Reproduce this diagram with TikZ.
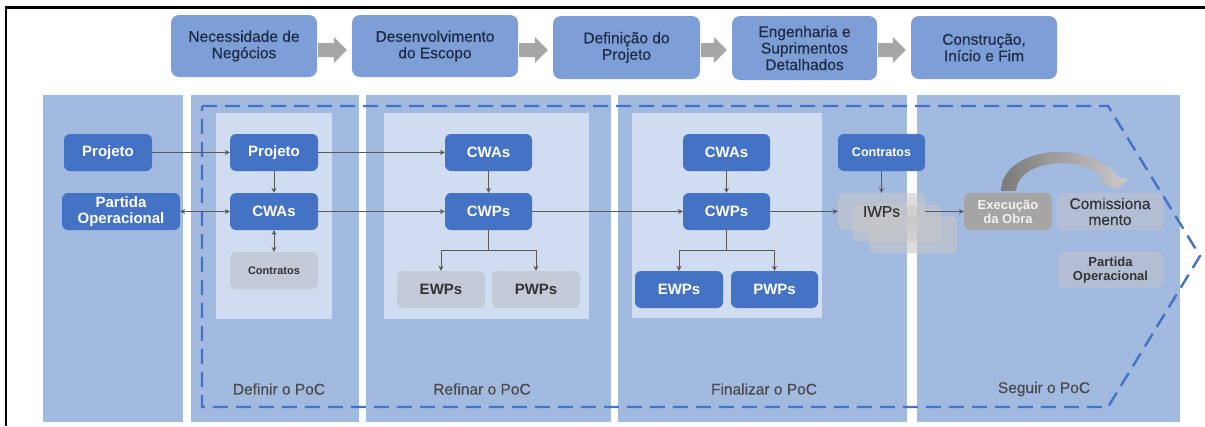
\documentclass[tikz,border=0pt]{standalone}
\usepackage{fontspec}
\setmainfont{Liberation Sans}
\newfontfamily\medfont[FakeBold=0.35]{Liberation Sans}
\usetikzlibrary{arrows.meta,calc}
\definecolor{topblue}{HTML}{7D9ED7}
\definecolor{toptext}{HTML}{1F2A44}
\definecolor{panelblue}{HTML}{A2B9E0}
\definecolor{innerblue}{HTML}{D0DCF0}
\definecolor{darkblue}{HTML}{4472C4}
\definecolor{greybox}{HTML}{C4CBD8}
\definecolor{greytext}{HTML}{333333}
\definecolor{conncol}{HTML}{5A5A5A}
\definecolor{arrgray}{HTML}{A6A6A6}
\definecolor{execol}{HTML}{A5A5A5}
\definecolor{comcol}{HTML}{B3BED4}
\definecolor{poctext}{HTML}{4A4A4A}
\newcommand\toparr[2]{\fill[arrgray] let \p1=(#1.east), \p2=(#2.west) in
  (\x1+1pt,-43pt) -- (\x2-18pt,-43pt) -- (\x2-18pt,-37pt) -- (\x2-5pt,-50pt) --
  (\x2-18pt,-63pt) -- (\x2-18pt,-57pt) -- (\x1+1pt,-57pt) -- cycle;}
\begin{document}
\begin{tikzpicture}[x=1pt,y=-1pt,
  topbox/.style={rectangle, rounded corners=8pt, fill=topblue, inner sep=0pt, align=center,
    text=toptext, font=\medfont\fontsize{15.5}{16.5}\selectfont},
  dbox/.style={rectangle, rounded corners=6pt, fill=darkblue, text=white,
    font=\bfseries\fontsize{15}{16.5}\selectfont, minimum width=88pt, minimum height=37pt,
    inner sep=0pt, align=center},
  gbox/.style={dbox, fill=greybox, text=greytext},
  stackbox/.style={rectangle, rounded corners=6pt, fill=black!22, fill opacity=0.6,
    minimum width=88pt, minimum height=37pt, inner sep=0pt},
  poc/.style={text=poctext, font=\medfont\fontsize{15.5}{17}\selectfont, inner sep=0pt},
  conn/.style={draw=conncol, line width=0.9pt, -{Stealth[length=5pt,width=5pt]}},
  conn2/.style={draw=conncol, line width=0.9pt, {Stealth[length=5pt,width=5pt]}-{Stealth[length=5pt,width=5pt]}},
  dashline/.style={draw=darkblue, line width=2.4pt, dash pattern=on 15pt off 8pt}
]
\useasboundingbox (0,0) rectangle (1205,426);
% frame
\draw[black, line width=2.6pt] (6,426) -- (6,7.5) -- (1205,7.5);

% top process boxes
\node[topbox, minimum width=146pt, minimum height=62pt] (t1) at (244,46) {Necessidade de\\Negócios};
\node[topbox, minimum width=166pt, minimum height=62pt] (t2) at (435,46) {Desenvolvimento\\do Escopo};
\node[topbox, minimum width=147pt, minimum height=63pt] (t3) at (626.5,47.5) {Definição do\\Projeto};
\node[topbox, minimum width=145pt, minimum height=64pt] (t4) at (804.5,48) {Engenharia e\\Suprimentos\\Detalhados};
\node[topbox, minimum width=146pt, minimum height=63pt] (t5) at (984,47.5) {Construção,\\Início e Fim};
\toparr{t1}{t2}
\toparr{t2}{t3}
\toparr{t3}{t4}
\toparr{t4}{t5}

% phase panels
\fill[panelblue] (43,95) rectangle (183,422);
\fill[panelblue] (191,95) rectangle (359,422);
\fill[panelblue] (366,95) rectangle (611,422);
\fill[panelblue] (618,95) rectangle (907,422);
\fill[panelblue] (917,95) rectangle (1180,422);
\fill[innerblue] (216,113) rectangle (332,319);
\fill[innerblue] (384,113) rectangle (589,319);
\fill[innerblue] (632,113) rectangle (822,318);

% dashed outline
\draw[dashline] (202,106) -- (1108,106) -- (1200,256) -- (1108,407) -- (202,407) -- cycle;

% column 0
\node[dbox] (proj0) at (108,152.5) {Projeto};
\node[dbox, minimum width=118pt] (part0) at (121,211.5) {Partida\\Operacional};
% column 1
\node[dbox] (proj1) at (274,152.5) {Projeto};
\node[dbox] (cwa1) at (274,211.5) {CWAs};
\node[gbox, font=\bfseries\fontsize{11}{13}\selectfont] (con1) at (274,270.5) {Contratos};
% column 2
\node[dbox, minimum width=87pt] (cwa2) at (488.5,152.5) {CWAs};
\node[dbox, minimum width=87pt] (cwp2) at (488.5,211.5) {CWPs};
\node[gbox] (ewp2) at (441,289.5) {EWPs};
\node[gbox] (pwp2) at (536,289.5) {PWPs};
% column 3
\node[dbox, minimum width=87pt] (cwa3) at (726.5,152.5) {CWAs};
\node[dbox, minimum width=87pt] (cwp3) at (726.5,211.5) {CWPs};
\node[dbox] (ewp3) at (679,289.5) {EWPs};
\node[dbox, minimum width=87pt] (pwp3) at (774.5,289.5) {PWPs};
\node[dbox, minimum width=87pt, font=\bfseries\fontsize{12.5}{14}\selectfont] (con3) at (881.5,152.5) {Contratos};
% IWPs stack
\node[stackbox] (iwpc) at (913,234.5) {};
\node[stackbox] (iwpb) at (897,223) {};
\node[stackbox, minimum width=87pt] (iwp) at (881.5,211.5) {};
\node[text=greytext, font=\medfont\fontsize{15.5}{17}\selectfont] (iwpt) at (iwp) {IWPs};
% column 4
\node[dbox, fill=execol, text=white!95!black, font=\bfseries\fontsize{13}{14}\selectfont] (exe) at (1008,211.5) {Execução\\da Obra};
\node[dbox, fill=comcol, text=greytext, minimum width=106pt, font=\medfont\fontsize{15.5}{16}\selectfont] (com) at (1110,211.5) {Comissiona\\mento};
\node[dbox, fill=comcol, text=greytext, minimum width=105pt, minimum height=36pt, font=\bfseries\fontsize{13}{13.5}\selectfont] (part4) at (1110.5,270) {Partida\\Operacional};

% phase labels
\node[poc] (l1) at (279,389) {Definir o PoC};
\node[poc] (l2) at (482,389) {Refinar o PoC};
\node[poc] (l3) at (764,389) {Finalizar o PoC};
\node[poc] (l4) at (1044,389) {Seguir o PoC};

% connectors
\draw[conn] (proj0) -- (proj1);
\draw[conn] (proj1) -- (cwa2);
\draw[conn] (proj1) -- (cwa1);
\draw[conn2] (part0) -- (cwa1);
\draw[conn2] (cwa1) -- (con1);
\draw[conn] (cwa1) -- (cwp2);
\draw[conn] (cwa2) -- (cwp2);
\draw[conn] (cwp2.south) -- ++(0,20) -| (ewp2.north);
\draw[conn] (cwp2.south) -- ++(0,20) -| (pwp2.north);
\draw[conn] (cwp2) -- (cwp3);
\draw[conn] (cwa3) -- (cwp3);
\draw[conn] (cwp3.south) -- ++(0,20) -| (ewp3.north);
\draw[conn] (cwp3.south) -- ++(0,20) -| (pwp3.north);
\draw[conn] (cwp3) -- (iwp);
\draw[conn] (con3) -- (iwp);
\draw[conn] (iwp) -- (exe);

% curved arrow from execution to commissioning
\coordinate (ca0) at ($(exe.north)+(-7,-2)$);
\coordinate (ca1) at ($(com.north)+(9,-15)$);
\coordinate (ca2) at ($(com.north)+(19,-14)$);
\coordinate (ca3) at ($(com.north)+(7,-3)$);
\coordinate (ca4) at ($(com.north)+(-15,-14)$);
\coordinate (ca5) at ($(com.north)+(-6,-14)$);
\coordinate (ca6) at ($(exe.north)+(8,-2)$);
\shade[left color=black!52, right color=black!20]
  (ca0) .. controls ($(ca0)+(1,-45)$) and ($(ca1)+(-28,-40)$) .. (ca1)
  -- (ca2) -- (ca3) -- (ca4) -- (ca5)
  .. controls ($(ca5)+(-18,-24)$) and ($(ca6)+(3,-33)$) .. (ca6) -- cycle;
\end{tikzpicture}
\end{document}
